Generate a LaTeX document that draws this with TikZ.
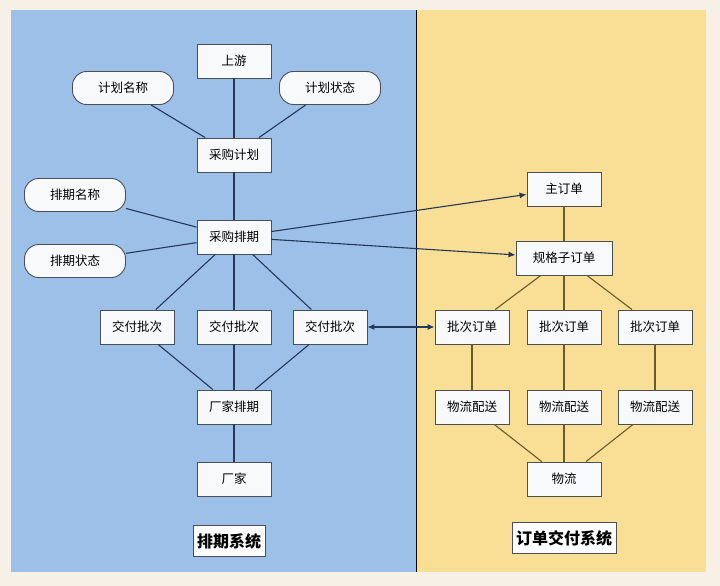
\documentclass[tikz,border=0pt]{standalone}
\usepackage{fontspec}
\setmainfont{Noto Sans CJK SC}
\usepackage{tikz}
\usetikzlibrary{arrows.meta,positioning}
\definecolor{pagebg}{HTML}{F6F0E6}
\definecolor{bluebg}{HTML}{9DC0E9}
\definecolor{yellowbg}{HTML}{F9DF95}
\definecolor{boxfill}{HTML}{F8F9FA}
\definecolor{boxline}{HTML}{4A4F57}
\definecolor{navyline}{HTML}{24385A}
\definecolor{oliveline}{HTML}{6B5A2A}

\begin{document}
\begin{tikzpicture}[
  x=1pt, y=-1pt,
  box/.style={draw=boxline, fill=boxfill, line width=0.9pt, minimum width=74pt, minimum height=34pt, inner sep=1pt, font=\fontsize{12.5}{14}\selectfont},
  pill/.style={box, rounded corners=14pt, minimum width=101pt, minimum height=33pt},
  sysbox/.style={draw=boxline, fill=white, line width=0.9pt, minimum height=31pt, inner sep=4pt, font=\fontsize{16}{18}\selectfont\bfseries},
  link/.style={navyline, line width=1.1pt},
  olink/.style={oliveline, line width=1.1pt},
  arrow/.style={-{Latex[length=7pt,width=6pt]}, navyline, line width=1.1pt},
  >=Latex
]

% 背景
\fill[pagebg] (0,0) rectangle (720,586);
\fill[bluebg] (11,10) rectangle (416,572);
\fill[yellowbg] (417,10) rectangle (706,572);
\draw[black, line width=1.6pt] (416.5,10) -- (416.5,572);

% 排期系统
\node[box] (shangyou) at (234,61) {上游};
\node[pill] (jhname) at (123,88) {计划名称};
\node[pill] (jhstate) at (330,88) {计划状态};
\node[box] (cgplan) at (234,155) {采购计划};
\node[pill] (pqname) at (75,195) {排期名称};
\node[pill] (pqstate) at (75,261) {排期状态};
\node[box] (cgsched) at (234,237) {采购排期};
\node[box] (batch1) at (137,327) {交付批次};
\node[box] (batch2) at (234,327) {交付批次};
\node[box] (batch3) at (330,327) {交付批次};
\node[box] (fsched) at (234,407) {厂家排期};
\node[box] (factory) at (234,479) {厂家};
\node[sysbox] (sysA) at (229,541) {排期系统};

% 订单交付系统
\node[box] (mainord) at (564,189) {主订单};
\node[box, minimum width=96pt] (specord) at (564,258) {规格子订单};
\node[box] (bord1) at (472,327) {批次订单};
\node[box] (bord2) at (564,327) {批次订单};
\node[box] (bord3) at (655,327) {批次订单};
\node[box] (ship1) at (472,407) {物流配送};
\node[box] (ship2) at (564,407) {物流配送};
\node[box] (ship3) at (655,407) {物流配送};
\node[box] (logis) at (564,479) {物流};
\node[sysbox] (sysB) at (564,538) {订单交付系统};

% 连线
\draw[link] (shangyou) -- (cgplan);
\draw[link] (jhname) -- (cgplan);
\draw[link] (jhstate) -- (cgplan);
\draw[link] (cgplan) -- (cgsched);
\draw[link] (pqname) -- (cgsched);
\draw[link] (pqstate) -- (cgsched);
\foreach \b in {batch1,batch2,batch3} {
  \draw[link] (cgsched) -- (\b);
  \draw[link] (\b) -- (fsched);
}
\draw[link] (fsched) -- (factory);

\draw[olink] (mainord) -- (specord);
\foreach \i in {1,2,3} {
  \draw[olink] (specord) -- (bord\i);
  \draw[olink] (bord\i) -- (ship\i);
  \draw[olink] (ship\i) -- (logis);
}

% 跨系统
\draw[arrow] (cgsched) -- (mainord);
\draw[arrow] (cgsched) -- (specord);
\draw[arrow, {Latex[length=7pt,width=6pt]}-{Latex[length=7pt,width=6pt]}] (batch3) -- (bord1);

\end{tikzpicture}
\end{document}
